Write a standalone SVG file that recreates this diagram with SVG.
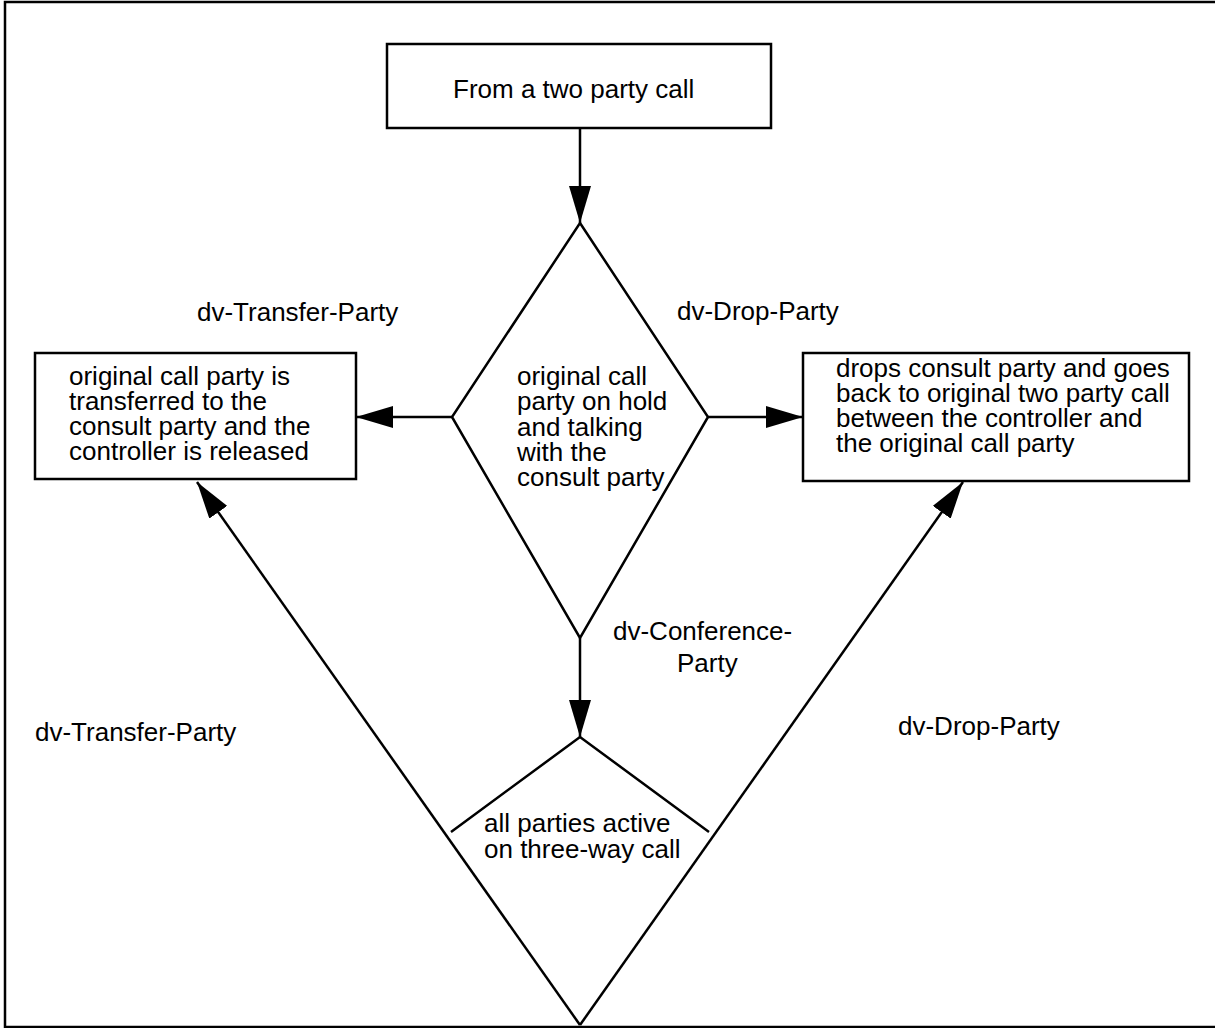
<svg xmlns="http://www.w3.org/2000/svg" width="1215" height="1028" viewBox="0 0 1215 1028">
<style>
.shape{fill:#fff;stroke:#000;stroke-width:2.5}
.open{fill:none;stroke:#000;stroke-width:2.5}
.conn{fill:none;stroke:#000;stroke-width:2.5;marker-end:url(#ah)}
text{font-family:"Liberation Sans",Arial,Helvetica,sans-serif;font-size:26px;fill:#000}
</style>
<defs>
<marker id="ah" viewBox="0 0 37 22" markerWidth="37" markerHeight="22" refX="37" refY="11" markerUnits="userSpaceOnUse" orient="auto">
<path d="M0,0 L37,11 L0,22 z" fill="#000"/>
</marker>
</defs>
<rect x="0" y="0" width="1215" height="1028" fill="#fff"/>
<rect id="frame" x="5" y="2" width="1215" height="1025" fill="none" stroke="#000" stroke-width="2.5"/>
<g id="connectors">
<line class="conn" x1="580" y1="128" x2="580" y2="223"/>
<line class="conn" x1="452" y1="417" x2="356" y2="417"/>
<line class="conn" x1="708" y1="417" x2="803" y2="417"/>
<line class="conn" x1="580" y1="638" x2="580" y2="737"/>
<line class="conn" x1="580" y1="1025" x2="197" y2="482"/>
<line class="conn" x1="580" y1="1025" x2="963" y2="482"/>
</g>
<g id="start">
<rect class="shape" x="387" y="44" width="384" height="84"/>
<text x="453" y="98">From a two party call</text>
</g>
<g id="consult">
<polygon class="shape" points="580,223 708,417 580,638 452,417"/>
<text x="517" y="385">original call</text>
<text x="517" y="410">party on hold</text>
<text x="517" y="436">and talking</text>
<text x="517" y="461">with the</text>
<text x="517" y="486">consult party</text>
</g>
<g id="transfer">
<rect class="shape" x="35" y="353" width="321" height="126"/>
<text x="69" y="385">original call party is</text>
<text x="69" y="410">transferred to the</text>
<text x="69" y="435">consult party and the</text>
<text x="69" y="460">controller is released</text>
</g>
<g id="drop">
<rect class="shape" x="803" y="353" width="386" height="128"/>
<text x="836" y="377">drops consult party and goes</text>
<text x="836" y="402">back to original two party call</text>
<text x="836" y="427">between the controller and</text>
<text x="836" y="452">the original call party</text>
</g>
<g id="conference">
<polyline class="open" points="451,832 580,737 709,832"/>
<text x="484" y="832">all parties active</text>
<text x="484" y="858">on three-way call</text>
</g>
<g id="labels">
<text x="197" y="321">dv-Transfer-Party</text>
<text x="677" y="320">dv-Drop-Party</text>
<text x="613" y="640">dv-Conference-</text>
<text x="677" y="672">Party</text>
<text x="35" y="741">dv-Transfer-Party</text>
<text x="898" y="735">dv-Drop-Party</text>
</g>
</svg>
